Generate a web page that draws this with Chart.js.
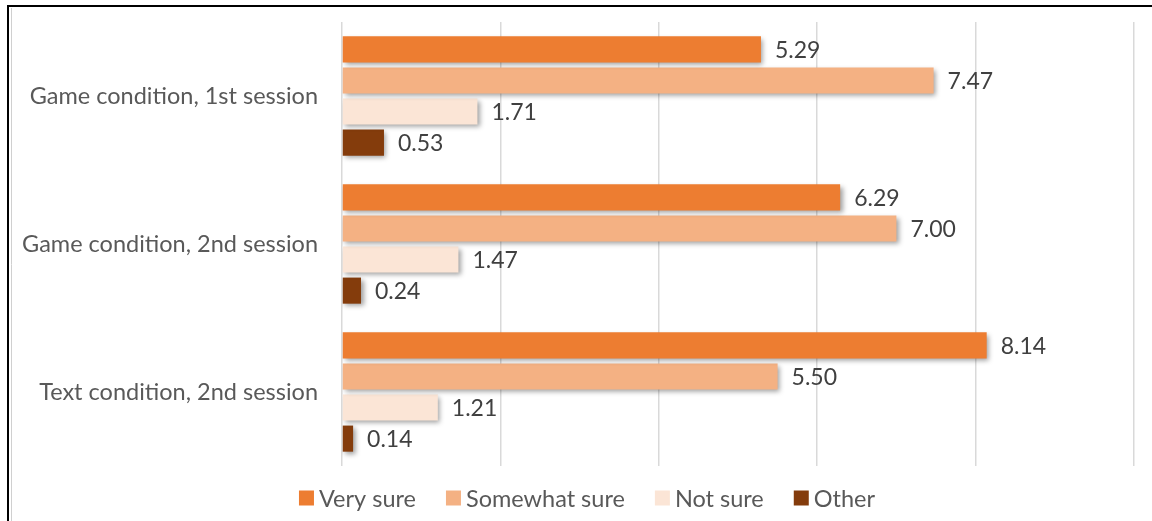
<!DOCTYPE html>
<html>
<head>
<meta charset="utf-8">
<script src="https://cdn.jsdelivr.net/npm/chart.js@4/dist/chart.umd.min.js"></script>
<style>
  html, body { margin: 0; padding: 0; background: #fff; }
  #wrap { position: relative; width: 1152px; height: 521px; }
</style>
</head>
<body>
<div id="wrap"><canvas id="c" width="1152" height="521"></canvas></div>
<script>
// Categories and series values
const categories = ['Game condition, 1st session', 'Game condition, 2nd session', 'Text condition, 2nd session'];
const seriesNames = ['Very sure', 'Somewhat sure', 'Not sure', 'Other'];
const verySure = [5.29, 6.29, 8.14];
const somewhatSure = [7.47, 7.00, 5.50];
const notSure = [1.71, 1.47, 1.21];
const other = [0.53, 0.24, 0.14];
const seriesColors = ['#ED7D31', '#F4B183', '#FBE5D6', '#843C0C'];

const FONT = 'Lato, "Open Sans", sans-serif';

// Soft drop shadow under each bar
const barShadow = {
  id: 'barShadow',
  beforeDatasetDraw(chart) {
    const ctx = chart.ctx;
    ctx.save();
    ctx.shadowColor = 'rgba(0,0,0,0.38)';
    ctx.shadowBlur = 5;
    ctx.shadowOffsetX = 2.5;
    ctx.shadowOffsetY = 2.5;
  },
  afterDatasetDraw(chart) {
    chart.ctx.restore();
  }
};

// Value labels at the end of each bar
const valueLabels = {
  id: 'valueLabels',
  afterDatasetsDraw(chart) {
    const ctx = chart.ctx;
    ctx.save();
    ctx.font = '23px ' + FONT;
    ctx.fillStyle = '#404040';
    ctx.textAlign = 'left';
    ctx.textBaseline = 'middle';
    chart.data.datasets.forEach((ds, di) => {
      const meta = chart.getDatasetMeta(di);
      meta.data.forEach((bar, i) => {
        ctx.fillText(ds.data[i].toFixed(2), bar.x + 14, bar.y + 1);
      });
    });
    ctx.restore();
  }
};

// Legend row under the plot: square swatch followed by the series name
const bottomLegend = {
  id: 'bottomLegend',
  afterDraw(chart) {
    const ctx = chart.ctx;
    const box = 15, gapText = 5, gapItem = 30, centerX = 587, midY = 498;
    ctx.save();
    ctx.font = '23.5px ' + FONT;
    ctx.textBaseline = 'middle';
    ctx.textAlign = 'left';
    const items = chart.data.datasets.map(ds => ({
      label: ds.label, color: ds.backgroundColor, w: ctx.measureText(ds.label).width
    }));
    const total = items.reduce((s, it) => s + box + gapText + it.w, 0) + gapItem * (items.length - 1);
    let x = centerX - total / 2;
    items.forEach(it => {
      ctx.fillStyle = it.color;
      ctx.fillRect(x, midY - box / 2, box, box);
      ctx.fillStyle = '#595959';
      ctx.fillText(it.label, x + box + gapText, midY + 1);
      x += box + gapText + it.w + gapItem;
    });
    ctx.restore();
  }
};

// Outer frame around the figure
const frame = {
  id: 'frame',
  afterDraw(chart) {
    const ctx = chart.ctx;
    ctx.save();
    ctx.strokeStyle = '#d0d0d0';
    ctx.lineWidth = 1;
    ctx.beginPath();
    ctx.moveTo(11.5, 8);
    ctx.lineTo(11.5, 521);
    ctx.stroke();
    ctx.strokeStyle = '#000';
    ctx.lineWidth = 2;
    ctx.beginPath();
    ctx.moveTo(8, 521);
    ctx.lineTo(8, 6);
    ctx.lineTo(1152, 6);
    ctx.stroke();
    ctx.restore();
  }
};

new Chart(document.getElementById('c'), {
  type: 'bar',
  data: {
    labels: categories,
    datasets: [
      { label: seriesNames[0], data: verySure, backgroundColor: seriesColors[0] },
      { label: seriesNames[1], data: somewhatSure, backgroundColor: seriesColors[1] },
      { label: seriesNames[2], data: notSure, backgroundColor: seriesColors[2] },
      { label: seriesNames[3], data: other, backgroundColor: seriesColors[3] }
    ]
  },
  options: {
    indexAxis: 'y',
    responsive: false,
    animation: false,
    layout: { padding: { left: 12, right: 18, top: 22, bottom: 55 } },
    datasets: { bar: { categoryPercentage: 0.84, barPercentage: 0.84 } },
    scales: {
      x: {
        min: 0, max: 10,
        ticks: { display: false, stepSize: 2 },
        grid: { color: '#d9d9d9', lineWidth: 1.5, drawTicks: false },
        border: { display: false },
        afterFit(s) { s.height = 0; }
      },
      y: {
        grid: { display: false },
        border: { display: false },
        ticks: { color: '#595959', font: { family: FONT, size: 23.5 }, padding: 16 },
        afterFit(s) { s.width = 330; s.paddingTop = 0; s.paddingBottom = 0; }
      }
    },
    plugins: {
      legend: { display: false },
      tooltip: { enabled: false }
    }
  },
  plugins: [barShadow, valueLabels, bottomLegend, frame]
});
</script>
</body>
</html>
